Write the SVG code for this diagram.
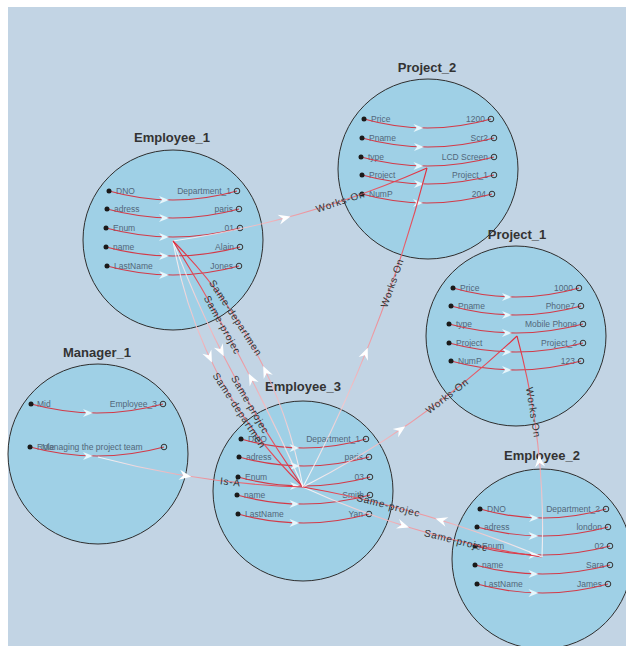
<svg xmlns="http://www.w3.org/2000/svg" xmlns:xlink="http://www.w3.org/1999/xlink" width="626" height="646" viewBox="0 0 626 646">
<style>
.bg{fill:#c2d4e4}
.nc{fill:#9fd0e6;stroke:#2e2e2e;stroke-width:1}
.tt{font-family:"Liberation Sans",Arial,sans-serif;font-weight:bold;font-size:13px;fill:#333;text-anchor:middle}
.al{font-family:"Liberation Sans",Arial,sans-serif;font-size:8.5px;fill:#52677a}
.ar{font-family:"Liberation Sans",Arial,sans-serif;font-size:8.5px;fill:#52677a;text-anchor:end}
.rl{fill:none;stroke:#d33a48;stroke-width:1.2}
.dot{fill:#1a1a1a}
.oc{fill:none;stroke:#333;stroke-width:1}
.el{font-family:"Liberation Sans",Arial,sans-serif;font-size:10px;fill:#333;letter-spacing:0.8px;text-anchor:middle}
.ed{fill:none;stroke-width:1.1}
</style>
<defs>
<path id="ea" d="M6,0 L-6,-5 L-2,0 L-6,5 Z" fill="#ffffff"/>
<path id="ra" d="M0,0 L-10,-4 L-7,0 L-10,4 Z" fill="#e6f6fc"/>
<linearGradient id="gA" gradientUnits="userSpaceOnUse" x1="173" y1="241" x2="427" y2="168"><stop offset="0" stop-color="#fff" stop-opacity="0.85"/><stop offset="1" stop-color="#e02a3a"/></linearGradient>
<linearGradient id="gB" gradientUnits="userSpaceOnUse" x1="303" y1="487" x2="427" y2="168"><stop offset="0" stop-color="#fff" stop-opacity="0.85"/><stop offset="1" stop-color="#e02a3a"/></linearGradient>
<linearGradient id="gC" gradientUnits="userSpaceOnUse" x1="303" y1="487" x2="517" y2="336"><stop offset="0" stop-color="#fff" stop-opacity="0.85"/><stop offset="1" stop-color="#e02a3a"/></linearGradient>
<linearGradient id="gD" gradientUnits="userSpaceOnUse" x1="542" y1="557" x2="517" y2="336"><stop offset="0" stop-color="#fff" stop-opacity="0.85"/><stop offset="1" stop-color="#e02a3a"/></linearGradient>
<linearGradient id="gE" gradientUnits="userSpaceOnUse" x1="98" y1="457" x2="303" y2="487"><stop offset="0" stop-color="#fff" stop-opacity="0.85"/><stop offset="1" stop-color="#e02a3a"/></linearGradient>
<linearGradient id="gF" gradientUnits="userSpaceOnUse" x1="173" y1="241" x2="303" y2="487"><stop offset="0" stop-color="#fff" stop-opacity="0.85"/><stop offset="1" stop-color="#e02a3a"/></linearGradient>
<linearGradient id="gG" gradientUnits="userSpaceOnUse" x1="303" y1="487" x2="173" y2="241"><stop offset="0" stop-color="#fff" stop-opacity="0.85"/><stop offset="1" stop-color="#e02a3a"/></linearGradient>
<linearGradient id="gH" gradientUnits="userSpaceOnUse" x1="303" y1="487" x2="542" y2="557"><stop offset="0" stop-color="#fff" stop-opacity="0.85"/><stop offset="1" stop-color="#e02a3a"/></linearGradient>
<linearGradient id="gI" gradientUnits="userSpaceOnUse" x1="542" y1="557" x2="303" y2="487"><stop offset="0" stop-color="#fff" stop-opacity="0.85"/><stop offset="1" stop-color="#e02a3a"/></linearGradient>
</defs>
<rect x="0" y="0" width="626" height="646" fill="#ffffff"/>
<rect class="bg" x="8" y="7" width="618" height="639"/>

<g id="Employee_1">
<text class="tt" x="172" y="142">Employee_1</text>
<circle class="nc" cx="173" cy="240" r="90"/>
<text class="al" x="116" y="194">DNO</text><text class="ar" x="231" y="194">Department_1</text>
<path class="rl" d="M109,191 Q173,209 237,191"/><circle class="dot" cx="109" cy="191" r="2.5"/><circle class="oc" cx="237" cy="191" r="2.8"/><use href="#ra" transform="translate(169,200)"/>
<text class="al" x="114" y="212">adress</text><text class="ar" x="233" y="212">paris</text>
<path class="rl" d="M107,209 Q173,227 239,209"/><circle class="dot" cx="107" cy="209" r="2.5"/><circle class="oc" cx="239" cy="209" r="2.8"/><use href="#ra" transform="translate(169,218)"/>
<text class="al" x="113" y="231">Enum</text><text class="ar" x="234" y="231">01</text>
<path class="rl" d="M106,228 Q173,246 240,228"/><circle class="dot" cx="106" cy="228" r="2.5"/><circle class="oc" cx="240" cy="228" r="2.8"/><use href="#ra" transform="translate(169,237)"/>
<text class="al" x="113" y="250">name</text><text class="ar" x="234" y="250">Alain</text>
<path class="rl" d="M106,247 Q173,265 240,247"/><circle class="dot" cx="106" cy="247" r="2.5"/><circle class="oc" cx="240" cy="247" r="2.8"/><use href="#ra" transform="translate(169,256)"/>
<text class="al" x="114" y="269">LastName</text><text class="ar" x="233" y="269">Jones</text>
<path class="rl" d="M107,266 Q173,284 239,266"/><circle class="dot" cx="107" cy="266" r="2.5"/><circle class="oc" cx="239" cy="266" r="2.8"/><use href="#ra" transform="translate(169,275)"/>
</g>

<g id="Project_2">
<text class="tt" x="427" y="72">Project_2</text>
<circle class="nc" cx="428" cy="169" r="90"/>
<text class="al" x="371" y="122">Price</text><text class="ar" x="485" y="122">1200</text>
<path class="rl" d="M364,119 Q427.5,137 491,119"/><circle class="dot" cx="364" cy="119" r="2.5"/><circle class="oc" cx="491" cy="119" r="2.8"/><use href="#ra" transform="translate(423.5,128)"/>
<text class="al" x="369" y="141">Pname</text><text class="ar" x="488" y="141">Scr2</text>
<path class="rl" d="M362,138 Q428,156 494,138"/><circle class="dot" cx="362" cy="138" r="2.5"/><circle class="oc" cx="494" cy="138" r="2.8"/><use href="#ra" transform="translate(424,147)"/>
<text class="al" x="368" y="160">type</text><text class="ar" x="488" y="160">LCD Screen</text>
<path class="rl" d="M361,157 Q427.5,175 494,157"/><circle class="dot" cx="361" cy="157" r="2.5"/><circle class="oc" cx="494" cy="157" r="2.8"/><use href="#ra" transform="translate(423.5,166)"/>
<text class="al" x="369" y="178">Project</text><text class="ar" x="488" y="178">Project_1</text>
<path class="rl" d="M362,175 Q428,193 494,175"/><circle class="dot" cx="362" cy="175" r="2.5"/><circle class="oc" cx="494" cy="175" r="2.8"/><use href="#ra" transform="translate(424,184)"/>
<text class="al" x="369" y="197">NumP</text><text class="ar" x="486" y="197">204</text>
<path class="rl" d="M362,194 Q427,212 492,194"/><circle class="dot" cx="362" cy="194" r="2.5"/><circle class="oc" cx="492" cy="194" r="2.8"/><use href="#ra" transform="translate(423,203)"/>
</g>

<g id="Project_1">
<text class="tt" x="517" y="239">Project_1</text>
<circle class="nc" cx="516" cy="336" r="90"/>
<text class="al" x="460" y="291">Price</text><text class="ar" x="573" y="291">1000</text>
<path class="rl" d="M453,288 Q516,306 579,288"/><circle class="dot" cx="453" cy="288" r="2.5"/><circle class="oc" cx="579" cy="288" r="2.8"/><use href="#ra" transform="translate(512,297)"/>
<text class="al" x="458" y="309">Pname</text><text class="ar" x="575" y="309">Phone7</text>
<path class="rl" d="M451,306 Q516,324 581,306"/><circle class="dot" cx="451" cy="306" r="2.5"/><circle class="oc" cx="581" cy="306" r="2.8"/><use href="#ra" transform="translate(512,315)"/>
<text class="al" x="456" y="327">type</text><text class="ar" x="577" y="327">Mobile Phone</text>
<path class="rl" d="M449,324 Q516,342 583,324"/><circle class="dot" cx="449" cy="324" r="2.5"/><circle class="oc" cx="583" cy="324" r="2.8"/><use href="#ra" transform="translate(512,333)"/>
<text class="al" x="456" y="346">Project</text><text class="ar" x="577" y="346">Project_2</text>
<path class="rl" d="M449,343 Q516,361 583,343"/><circle class="dot" cx="449" cy="343" r="2.5"/><circle class="oc" cx="583" cy="343" r="2.8"/><use href="#ra" transform="translate(512,352)"/>
<text class="al" x="458" y="364">NumP</text><text class="ar" x="575" y="364">123</text>
<path class="rl" d="M451,361 Q516,379 581,361"/><circle class="dot" cx="451" cy="361" r="2.5"/><circle class="oc" cx="581" cy="361" r="2.8"/><use href="#ra" transform="translate(512,370)"/>
</g>

<g id="Manager_1">
<text class="tt" x="97" y="357">Manager_1</text>
<circle class="nc" cx="98" cy="454" r="90"/>
<text class="al" x="37" y="407">Mid</text><text class="ar" x="157" y="407">Employee_3</text>
<path class="rl" d="M31,404 Q97,422 163,404"/><circle class="dot" cx="31" cy="404" r="2.5"/><circle class="oc" cx="163" cy="404" r="2.8"/><use href="#ra" transform="translate(93,413)"/>
<text class="al" x="37" y="450">Role</text><text class="al" x="42" y="450">Managing the project team</text>
<path class="rl" d="M30,447 Q97,465 164,447"/><circle class="dot" cx="30" cy="447" r="2.5"/><circle class="oc" cx="164" cy="447" r="2.8"/><use href="#ra" transform="translate(93,456)"/>
</g>

<g id="Employee_3">
<text class="tt" x="303" y="391">Employee_3</text>
<circle class="nc" cx="303" cy="491" r="90"/>
<text class="al" x="248" y="442">DNO</text><text class="ar" x="360" y="442">Department_1</text>
<path class="rl" d="M241,439 Q303.5,457 366,439"/><circle class="dot" cx="241" cy="439" r="2.5"/><circle class="oc" cx="366" cy="439" r="2.8"/><use href="#ra" transform="translate(299.5,448)"/>
<text class="al" x="246" y="460">adress</text><text class="ar" x="363" y="460">paris</text>
<path class="rl" d="M239,457 Q304,475 369,457"/><circle class="dot" cx="239" cy="457" r="2.5"/><circle class="oc" cx="369" cy="457" r="2.8"/><use href="#ra" transform="translate(300,466)"/>
<text class="al" x="245" y="480">Enum</text><text class="ar" x="364" y="480">03</text>
<path class="rl" d="M238,477 Q304,495 370,477"/><circle class="dot" cx="238" cy="477" r="2.5"/><circle class="oc" cx="370" cy="477" r="2.8"/><use href="#ra" transform="translate(300,486)"/>
<text class="al" x="244" y="498">name</text><text class="ar" x="364" y="498">Smith</text>
<path class="rl" d="M237,495 Q303.5,513 370,495"/><circle class="dot" cx="237" cy="495" r="2.5"/><circle class="oc" cx="370" cy="495" r="2.8"/><use href="#ra" transform="translate(299.5,504)"/>
<text class="al" x="245" y="517">LastName</text><text class="ar" x="363" y="517">Yan</text>
<path class="rl" d="M238,514 Q303.5,532 369,514"/><circle class="dot" cx="238" cy="514" r="2.5"/><circle class="oc" cx="369" cy="514" r="2.8"/><use href="#ra" transform="translate(299.5,523)"/>
</g>

<g id="Employee_2">
<text class="tt" x="542" y="460">Employee_2</text>
<circle class="nc" cx="542" cy="559" r="90"/>
<text class="al" x="487" y="512">DNO</text><text class="ar" x="600" y="512">Department_2</text>
<path class="rl" d="M480,509 Q543,527 606,509"/><circle class="dot" cx="480" cy="509" r="2.5"/><circle class="oc" cx="606" cy="509" r="2.8"/><use href="#ra" transform="translate(539,518)"/>
<text class="al" x="484" y="530">adress</text><text class="ar" x="602" y="530">london</text>
<path class="rl" d="M477,527 Q542.5,545 608,527"/><circle class="dot" cx="477" cy="527" r="2.5"/><circle class="oc" cx="608" cy="527" r="2.8"/><use href="#ra" transform="translate(538.5,536)"/>
<text class="al" x="482" y="549">Enum</text><text class="ar" x="604" y="549">02</text>
<path class="rl" d="M475,546 Q542.5,564 610,546"/><circle class="dot" cx="475" cy="546" r="2.5"/><circle class="oc" cx="610" cy="546" r="2.8"/><use href="#ra" transform="translate(538.5,555)"/>
<text class="al" x="482" y="568">name</text><text class="ar" x="604" y="568">Sara</text>
<path class="rl" d="M475,565 Q542.5,583 610,565"/><circle class="dot" cx="475" cy="565" r="2.5"/><circle class="oc" cx="610" cy="565" r="2.8"/><use href="#ra" transform="translate(538.5,574)"/>
<text class="al" x="484" y="587">LastName</text><text class="ar" x="602" y="587">James</text>
<path class="rl" d="M477,584 Q542.5,602 608,584"/><circle class="dot" cx="477" cy="584" r="2.5"/><circle class="oc" cx="608" cy="584" r="2.8"/><use href="#ra" transform="translate(538.5,593)"/>
</g>

<g id="connectors">
<path class="ed" stroke="url(#gA)" d="M173,241 Q304.97,221.8 427,168"/>
<path class="ed" stroke="url(#gB)" d="M303,487 Q383.64,334.75 427,168"/>
<path class="ed" stroke="url(#gC)" d="M303,487 Q420.95,427.02 517,336"/>
<path class="ed" stroke="url(#gD)" d="M542,557 Q546.39,444.59 517,336"/>
<path class="ed" stroke="url(#gE)" d="M98,457 Q198.76,483.87 303,487"/>
<path class="ed" stroke="url(#gF)" d="M173,241 Q198.22,385.02 303,487"/>
<path class="ed" stroke="url(#gF)" d="M173,241 Q222.09,372.41 303,487"/>
<path class="ed" stroke="url(#gG)" d="M303,487 Q276.02,343.91 173,241"/>
<path class="ed" stroke="url(#gG)" d="M303,487 Q246.84,359.33 173,241"/>
<path class="ed" stroke="url(#gH)" d="M303,487 Q417.44,539.27 542,557"/>
<path class="ed" stroke="url(#gI)" d="M542,557 Q426.44,508.56 303,487"/>
<use href="#ea" transform="translate(284.7,218.1) rotate(-14.9)"/>
<use href="#ea" transform="translate(365.5,353.4) rotate(-67.8)"/>
<use href="#ea" transform="translate(400.4,429.7) rotate(-34)"/>
<use href="#ea" transform="translate(539.5,461) rotate(-95.2)"/>
<use href="#ea" transform="translate(185.3,475.7) rotate(9.3)"/>
<use href="#ea" transform="translate(209.4,357.1) rotate(64.7)"/>
<use href="#ea" transform="translate(221.1,350.9) rotate(63.2)"/>
<use href="#ea" transform="translate(265.7,371.4) rotate(-115.4)"/>
<use href="#ea" transform="translate(251.4,378.9) rotate(-117.3)"/>
<use href="#ea" transform="translate(403.3,525.6) rotate(17.5)"/>
<use href="#ea" transform="translate(441.2,520.3) rotate(-162.8)"/>
<text class="el" transform="translate(340.4,201.4) rotate(-18.4)" dy="3.5">Works-On</text>
<text class="el" transform="translate(392.1,283) rotate(-70.8)" dy="3.5">Works-On</text>
<text class="el" transform="translate(447.1,395.9) rotate(-37.7)" dy="3.5">Works-On</text>
<text class="el" transform="translate(533.4,412.5) rotate(80.9)" dy="3.5">Works-On</text>
<text class="el" transform="translate(230.5,481.9) rotate(6.3)" dy="3.5">Is-A</text>
<text class="el" transform="translate(239.4,410.5) rotate(56.6)" dy="3.5">Same-departmen</text>
<text class="el" transform="translate(250.3,404.7) rotate(59.9)" dy="3.5">Same-projec</text>
<text class="el" transform="translate(235.8,318) rotate(56.9)" dy="3.5">Same-departmen</text>
<text class="el" transform="translate(222.5,325) rotate(60.9)" dy="3.5">Same-projec</text>
<text class="el" transform="translate(456.1,540.4) rotate(13.8)" dy="3.5">Same-projec</text>
<text class="el" transform="translate(388.5,505.4) rotate(14.4)" dy="3.5">Same-projec</text>
</g>
</svg>
